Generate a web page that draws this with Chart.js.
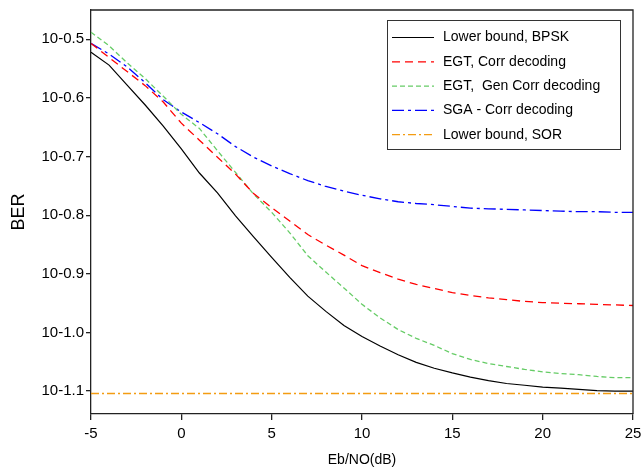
<!DOCTYPE html>
<html>
<head>
<meta charset="utf-8">
<script src="https://cdn.jsdelivr.net/npm/chart.js@4/dist/chart.umd.min.js"></script>
<style>
  html, body { margin: 0; padding: 0; background: #fff; }
  #wrap { width: 643px; height: 469px; }
</style>
</head>
<body>
<div id="wrap"><canvas id="chart" width="643" height="469"></canvas></div>
<script>
// Eb/N0 in dB
const ebno = [-5, -4, -3, -2, -1, 0, 1, 2, 3, 4, 5, 6, 7, 8, 9, 10, 11, 12, 13, 14, 15, 16, 17, 18, 19, 20, 21, 22, 23, 24, 25];

// log10(BER)
const bpskLower = [-0.522, -0.544, -0.578, -0.612, -0.648, -0.687, -0.728, -0.762, -0.801, -0.837, -0.872, -0.906, -0.938, -0.964, -0.988, -1.007, -1.023, -1.038, -1.051, -1.061, -1.069, -1.076, -1.082, -1.087, -1.090, -1.093, -1.095, -1.097, -1.099, -1.100, -1.100];
const egtCorr = [-0.507, -0.531, -0.555, -0.579, -0.607, -0.643, -0.672, -0.701, -0.730, -0.763, -0.787, -0.810, -0.833, -0.851, -0.868, -0.886, -0.898, -0.909, -0.918, -0.925, -0.932, -0.937, -0.941, -0.944, -0.947, -0.949, -0.950, -0.951, -0.952, -0.953, -0.954];
const egtGenCorr = [-0.488, -0.511, -0.540, -0.567, -0.597, -0.628, -0.652, -0.690, -0.727, -0.764, -0.795, -0.830, -0.869, -0.897, -0.924, -0.952, -0.975, -0.995, -1.010, -1.022, -1.036, -1.046, -1.053, -1.058, -1.063, -1.067, -1.070, -1.072, -1.075, -1.077, -1.077];
const sgaCorr = [-0.507, -0.525, -0.547, -0.574, -0.603, -0.624, -0.642, -0.661, -0.683, -0.701, -0.716, -0.729, -0.741, -0.751, -0.759, -0.766, -0.772, -0.777, -0.780, -0.782, -0.785, -0.788, -0.789, -0.790, -0.791, -0.792, -0.793, -0.794, -0.794, -0.795, -0.795];
const sorLower = [-1.104, -1.104, -1.104, -1.104, -1.104, -1.104, -1.104, -1.104, -1.104, -1.104, -1.104, -1.104, -1.104, -1.104, -1.104, -1.104, -1.104, -1.104, -1.104, -1.104, -1.104, -1.104, -1.104, -1.104, -1.104, -1.104, -1.104, -1.104, -1.104, -1.104, -1.104];

const labels = ['Lower bound, BPSK', 'EGT, Corr decoding', 'EGT,  Gen Corr decoding', 'SGA - Corr decoding', 'Lower bound, SOR'];
const yTickExps = [-0.5, -0.6, -0.7, -0.8, -0.9, -1.0, -1.1];
const xTicks = [-5, 0, 5, 10, 15, 20, 25];

const FONT = '"Liberation Sans", Arial, sans-serif';

function pts(arr) {
  return ebno.map((x, i) => ({ x: x, y: Math.pow(10, arr[i]) }));
}

function series(label, arr, color, dash, width) {
  return {
    label: label,
    data: pts(arr),
    borderColor: color,
    backgroundColor: color,
    borderWidth: width || 1.3,
    borderDash: dash,
    pointRadius: 0,
    fill: false,
    tension: 0
  };
}

// frame on top + right, and the boxed legend
const framePlugin = {
  id: 'frame',
  afterDraw(chart) {
    const ctx = chart.ctx;
    const a = chart.chartArea;
    ctx.save();
    ctx.strokeStyle = '#222';
    ctx.lineWidth = 1.3;
    ctx.beginPath();
    ctx.moveTo(a.left, a.top);
    ctx.lineTo(a.right, a.top);
    ctx.lineTo(a.right, a.bottom);
    ctx.stroke();

    // legend
    const bx = 387.5, by = 20.5, bw = 233, bh = 129;
    ctx.fillStyle = '#fff';
    ctx.fillRect(bx, by, bw, bh);
    ctx.strokeStyle = '#333';
    ctx.lineWidth = 1;
    ctx.strokeRect(bx, by, bw, bh);
    ctx.font = '14px ' + FONT;
    ctx.textBaseline = 'middle';
    chart.data.datasets.forEach((ds, i) => {
      const y = 37.5 + i * 24.3;
      ctx.strokeStyle = ds.borderColor;
      ctx.lineWidth = ds.borderWidth;
      ctx.setLineDash(ds.borderDash || []);
      ctx.beginPath();
      ctx.moveTo(392, y);
      ctx.lineTo(434, y);
      ctx.stroke();
      ctx.setLineDash([]);
      ctx.fillStyle = '#000';
      ctx.fillText(ds.label, 443, y);
    });
    ctx.restore();
  }
};

new Chart(document.getElementById('chart'), {
  type: 'line',
  data: {
    datasets: [
      series(labels[0], bpskLower, '#000000', [], 1.2),
      series(labels[1], egtCorr, '#ff0000', [8, 5]),
      series(labels[2], egtGenCorr, '#66cc66', [5, 3]),
      series(labels[3], sgaCorr, '#0000ff', [12, 4, 3, 4]),
      series(labels[4], sorLower, '#f39c12', [8, 3, 2, 3])
    ]
  },
  options: {
    responsive: false,
    animation: false,
    layout: { padding: { top: 10, right: 10, left: 0, bottom: 0 } },
    plugins: { legend: { display: false }, tooltip: { enabled: false } },
    scales: {
      x: {
        type: 'linear',
        min: -5,
        max: 25,
        afterBuildTicks(scale) { scale.ticks = xTicks.map(v => ({ value: v })); },
        afterFit(scale) { scale.height = 55; scale.paddingLeft = 0; scale.paddingRight = 0; },
        grid: { display: true, drawOnChartArea: false, drawTicks: true, tickLength: 6, color: '#222', lineWidth: 1.3 },
        border: { display: true, color: '#222', width: 1.3 },
        ticks: { color: '#000', font: { family: FONT, size: 15 }, padding: 5, maxRotation: 0 },
        title: { display: true, text: 'Eb/NO(dB)', color: '#000', font: { family: FONT, size: 14 }, padding: { top: 0, bottom: 0 } }
      },
      y: {
        type: 'logarithmic',
        min: Math.pow(10, -1.139),
        max: Math.pow(10, -0.45),
        afterBuildTicks(scale) { scale.ticks = yTickExps.map(e => ({ value: Math.pow(10, e) })); },
        afterFit(scale) { scale.width = 91; scale.paddingTop = 0; scale.paddingBottom = 0; },
        grid: { display: true, drawOnChartArea: false, drawTicks: true, tickLength: 5, color: '#222', lineWidth: 1.3 },
        border: { display: true, color: '#222', width: 1.3 },
        ticks: {
          autoSkip: false,
          color: '#000',
          font: { family: FONT, size: 15 },
          padding: 2,
          callback: (v) => '10' + Math.log10(v).toFixed(1)
        },
        title: { display: true, text: 'BER', color: '#000', font: { family: FONT, size: 18 }, padding: { top: 8, bottom: 0 } }
      }
    }
  },
  plugins: [framePlugin]
});
</script>
</body>
</html>
